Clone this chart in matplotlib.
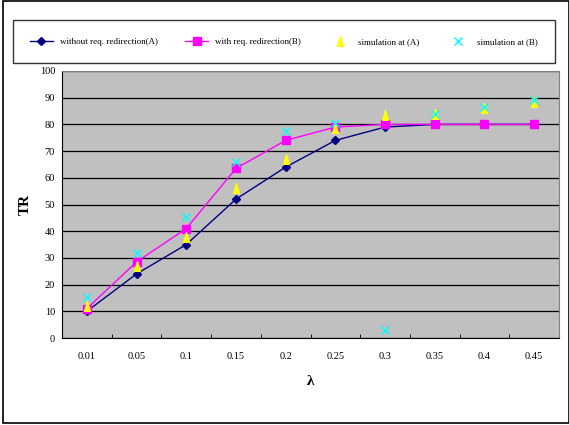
import numpy as np
import matplotlib.pyplot as plt
from matplotlib.patches import Rectangle

# data
lambdas = ['0.01', '0.05', '0.1', '0.15', '0.2', '0.25', '0.3', '0.35', '0.4', '0.45']
without_redir = [10, 24, 35, 52, 64, 74, 79, 80, 80, 80]
with_redir = [11, 28.5, 41, 63.5, 74, 79, 80, 80, 80, 80]
sim_a = [12, 27, 38, 56, 67, 78.5, 83.5, 84, 86, 88.5]
sim_b = [15.5, 32, 45.5, 66, 77.5, 80.5, 3, 84, 86.5, 89]

plt.rcParams['font.family'] = ['Liberation Serif', 'DejaVu Serif']

W, H = 569, 425
fig = plt.figure(figsize=(W / 100, H / 100), dpi=100)
ax = fig.add_axes([62 / W, 1 - 338 / H, (559 - 62) / W, (338 - 71) / H])

# narrow triangle like the spreadsheet marker
tri = [(-0.6, -1), (0.6, -1), (0, 1), (-0.6, -1)]

x = np.arange(len(lambdas))
ax.set_facecolor('#C0C0C0')
ax.set_axisbelow(True)
ax.yaxis.grid(True, color='black', linewidth=0.9)

ax.plot(x, without_redir, color='#000080', marker='D', markersize=4, linewidth=1,
        label='without req. redirection(A)', zorder=3)
ax.plot(x, with_redir, color='#FF00FF', marker='s', markersize=6, linewidth=1,
        label='with req. redirection(B)', zorder=3)
ax.plot(x, sim_a, linestyle='none', color='#FFFF00', marker=tri, markersize=7,
        label='simulation at (A)', zorder=4)
ax.plot(x, sim_b, linestyle='none', color='#00FFFF', marker='x', markersize=6,
        markeredgewidth=1, label='simulation at (B)', zorder=5)

ax.set_xlim(-0.5, len(lambdas) - 0.5)
ax.set_ylim(0, 100)
ax.set_yticks(range(0, 101, 10))
ax.set_xticks(x)
ax.set_xticklabels(lambdas)
ax.set_xticks(np.arange(0.5, len(lambdas) - 1, 1), minor=True)
ax.tick_params(axis='x', which='major', length=0, pad=10, labelsize=7.5)
ax.tick_params(axis='x', which='minor', direction='in', length=3, color='black')
ax.tick_params(axis='y', length=0, pad=5, labelsize=7.5)

for side in ['top', 'right']:
    ax.spines[side].set_color('#808080')
for side in ['left', 'bottom']:
    ax.spines[side].set_color('black')

ax.set_xlabel('λ', fontsize=11, fontweight='bold', labelpad=10)
ax.set_ylabel('TR', fontsize=11, fontweight='bold', labelpad=6)

leg = fig.legend(loc='lower left', ncol=4, mode='expand',
                 bbox_to_anchor=(13 / W, 1 - 63 / H, (555 - 13) / W, (63 - 5) / H),
                 fontsize=6.5, frameon=True, fancybox=False, edgecolor='black',
                 borderaxespad=0, handlelength=2.5, borderpad=1.9)
leg.get_frame().set_linewidth(1)

# outer chart border
fig.patches.append(Rectangle((3 / W, 2 / H), 1 - 3 / W, 1 - 3 / H, transform=fig.transFigure,
                             fill=False, edgecolor='black', linewidth=1.2))

fig.savefig('out.png', dpi=100)
